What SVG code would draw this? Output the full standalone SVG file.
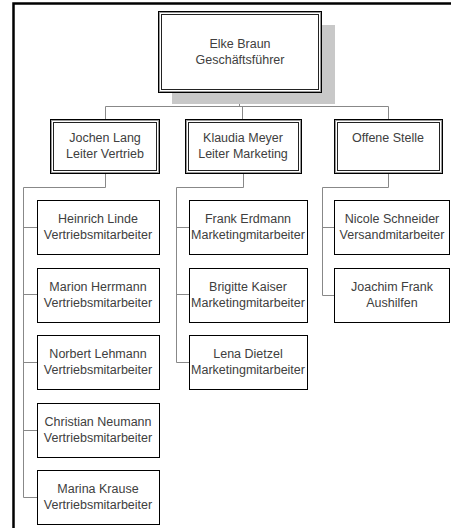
<svg xmlns="http://www.w3.org/2000/svg" width="451" height="528" viewBox="0 0 451 528">
<style>
.t{font-family:"Liberation Sans",Arial,sans-serif;font-size:12.5px;fill:#404040;text-anchor:middle}
.box{fill:#fff;stroke:#000;stroke-width:1}
.o{fill:#fff;stroke:#000;stroke-width:1}
.m{fill:none;stroke:#999;stroke-width:1}
.i{fill:none;stroke:#222;stroke-width:1}
.c{fill:none;stroke:#888;stroke-width:1}
</style>
<rect width="451" height="528" fill="#fff"/>
<path d="M13.5 528V3.5H451" fill="none" stroke="#000" stroke-width="2.5"/>
<g id="connectors">
<path class="c" d="M239.5 92V106.5M105.5 106.5H388.5M105.5 106.5V119M242.5 106.5V119M388.5 106.5V119"/>
<path class="c" d="M105.5 173V187.5H23.5V497.5M23.5 227.5H37M23.5 294.5H37M23.5 362.5H37M23.5 430.5H37M23.5 497.5H37"/>
<path class="c" d="M243.5 173V187.5H176.5V362.5M176.5 227.5H189M176.5 294.5H189M176.5 362.5H189"/>
<path class="c" d="M388.5 173V187.5H322.5V295.5M322.5 227.5H334M322.5 295.5H334"/>
</g>
<g id="n-braun">
<rect x="172" y="25" width="163" height="79" fill="#c8c8c8"/>
<rect class="o" x="158.5" y="11.5" width="163" height="81"/>
<rect class="m" x="159.5" y="12.5" width="161" height="79"/>
<rect class="i" x="161.5" y="14.5" width="157" height="75"/>
<text class="t" x="240" y="48">Elke Braun</text>
<text class="t" x="240" y="64">Geschäftsführer</text>
</g>
<g id="n-lang">
<rect class="o" x="50.5" y="119.5" width="109" height="54"/>
<rect class="m" x="51.5" y="120.5" width="107" height="52"/>
<rect class="i" x="53.5" y="122.5" width="103" height="48"/>
<text class="t" x="105" y="142">Jochen Lang</text>
<text class="t" x="105" y="158">Leiter Vertrieb</text>
</g>
<g id="n-meyer">
<rect class="o" x="185.5" y="119.5" width="116" height="54"/>
<rect class="m" x="186.5" y="120.5" width="114" height="52"/>
<rect class="i" x="188.5" y="122.5" width="110" height="48"/>
<text class="t" x="243" y="142">Klaudia Meyer</text>
<text class="t" x="243" y="158">Leiter Marketing</text>
</g>
<g id="n-offen">
<rect class="o" x="334.5" y="119.5" width="108" height="54"/>
<rect class="m" x="335.5" y="120.5" width="106" height="52"/>
<rect class="i" x="337.5" y="122.5" width="102" height="48"/>
<text class="t" x="388" y="142">Offene Stelle</text>
</g>
<g id="n-linde"><rect class="box" x="37.5" y="200.5" width="122" height="54"/><text class="t" x="98" y="223">Heinrich Linde</text><text class="t" x="98" y="239">Vertriebsmitarbeiter</text></g>
<g id="n-herrmann"><rect class="box" x="37.5" y="268.5" width="122" height="54"/><text class="t" x="98" y="291">Marion Herrmann</text><text class="t" x="98" y="307">Vertriebsmitarbeiter</text></g>
<g id="n-lehmann"><rect class="box" x="37.5" y="335.5" width="122" height="54"/><text class="t" x="98" y="358">Norbert Lehmann</text><text class="t" x="98" y="374">Vertriebsmitarbeiter</text></g>
<g id="n-neumann"><rect class="box" x="37.5" y="403.5" width="122" height="54"/><text class="t" x="98" y="426">Christian Neumann</text><text class="t" x="98" y="442">Vertriebsmitarbeiter</text></g>
<g id="n-krause"><rect class="box" x="37.5" y="470.5" width="122" height="54"/><text class="t" x="98" y="493">Marina Krause</text><text class="t" x="98" y="509">Vertriebsmitarbeiter</text></g>
<g id="n-erdmann"><rect class="box" x="189.5" y="200.5" width="118" height="54"/><text class="t" x="248" y="223">Frank Erdmann</text><text class="t" x="248" y="239">Marketingmitarbeiter</text></g>
<g id="n-kaiser"><rect class="box" x="189.5" y="268.5" width="118" height="54"/><text class="t" x="248" y="291">Brigitte Kaiser</text><text class="t" x="248" y="307">Marketingmitarbeiter</text></g>
<g id="n-dietzel"><rect class="box" x="189.5" y="335.5" width="118" height="54"/><text class="t" x="248" y="358">Lena Dietzel</text><text class="t" x="248" y="374">Marketingmitarbeiter</text></g>
<g id="n-schneider"><rect class="box" x="334.5" y="200.5" width="115" height="54"/><text class="t" x="392" y="223">Nicole Schneider</text><text class="t" x="392" y="239">Versandmitarbeiter</text></g>
<g id="n-frank"><rect class="box" x="334.5" y="268.5" width="115" height="54"/><text class="t" x="392" y="291">Joachim Frank</text><text class="t" x="392" y="307">Aushilfen</text></g>
</svg>
